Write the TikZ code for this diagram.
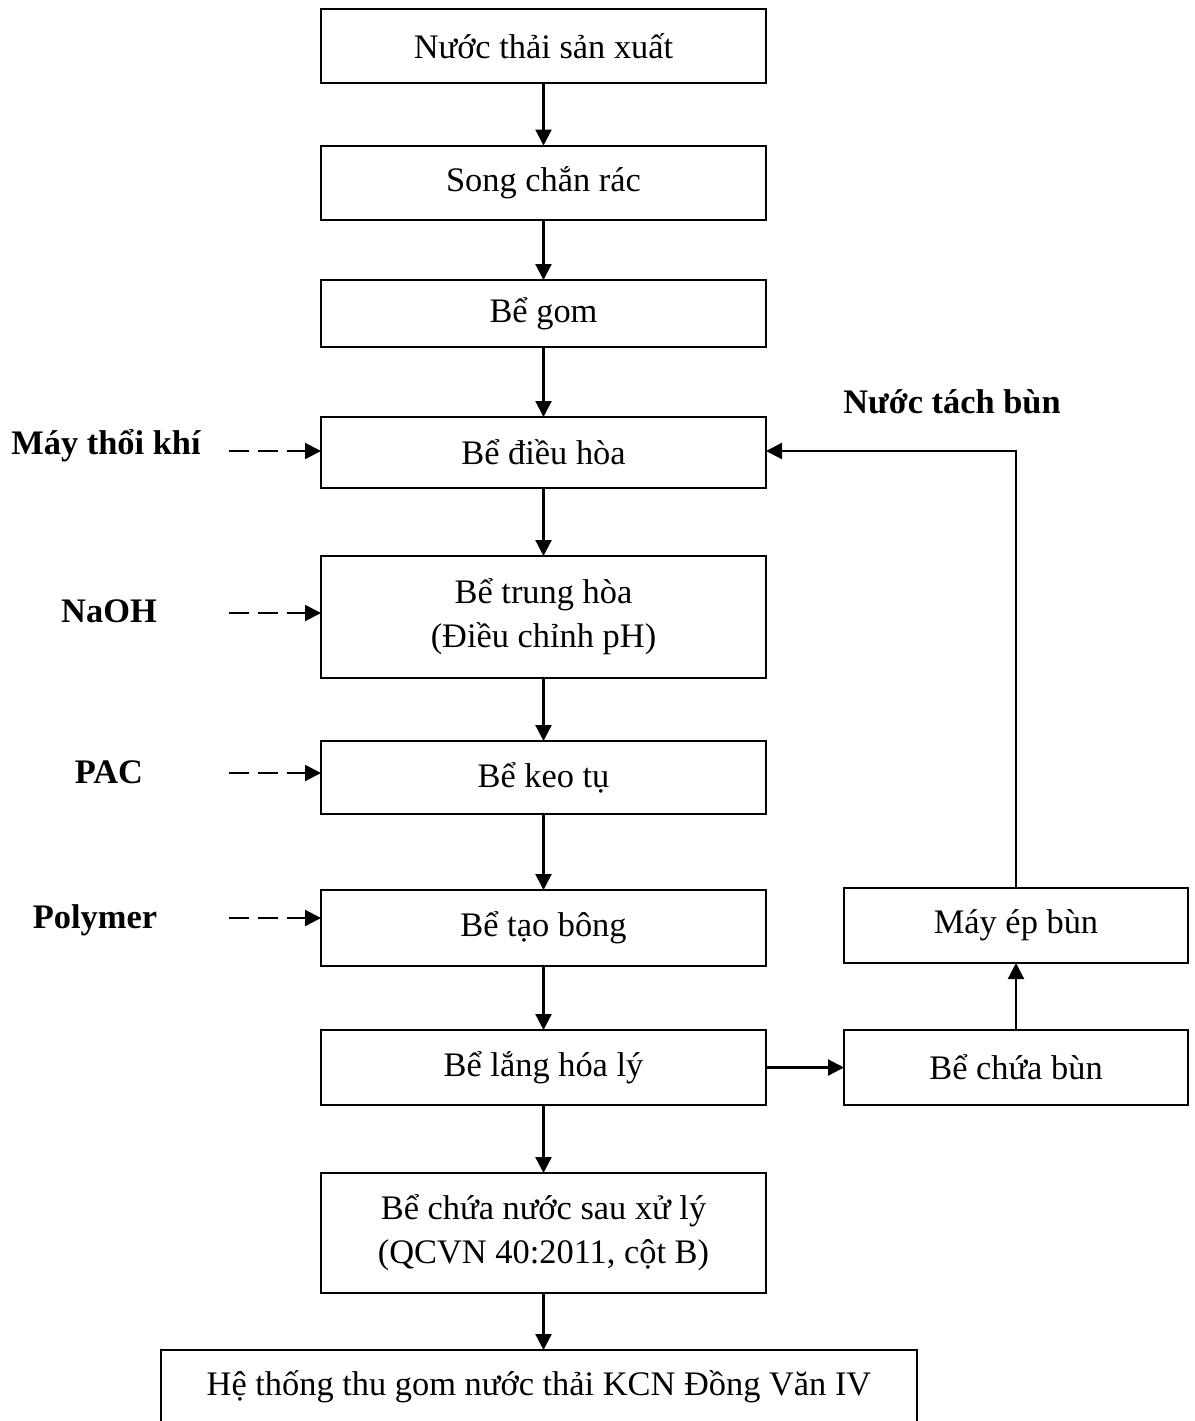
\documentclass[tikz,border=0pt]{standalone}
\usepackage{fontspec}
\setmainfont{Liberation Serif}
\usetikzlibrary{arrows.meta}
\begin{document}
\begin{tikzpicture}[x=0.5pt,y=-0.5pt,
  font=\fontsize{17.2pt}{22pt}\selectfont,
  box/.style={draw, line width=1pt, inner sep=0pt, outer sep=0pt,
    align=center, minimum width=222.5pt, minimum height=37pt},
  sidebox/.style={box, minimum width=172pt, minimum height=37.5pt},
  flow/.style={line width=1.1pt, -{Triangle[length=8pt,width=8pt]}},
  dose/.style={flow, dash pattern=on 10pt off 4.5pt},
  chem/.style={font=\fontsize{17.2pt}{22pt}\selectfont\bfseries}]
\clip (0,0) rectangle (1195,1421);
\fill[white] (0,0) rectangle (1195,1421);

% main treatment line
\node[box] (b1) at (543.5,46) {Nước thải sản xuất};
\node[box] (b2) at (543.5,182.5) {Song chắn rác};
\node[box, minimum height=33.5pt] (b3) at (543.5,313.5) {Bể gom};
\node[box, minimum height=35.5pt] (b4) at (543.5,452.5) {Bể điều hòa};
\node[box, minimum height=61pt] (b5) at (543.5,617) {Bể trung hòa\\(Điều chỉnh pH)};
\node[box, minimum height=36.5pt] (b6) at (543.5,777.5) {Bể keo tụ};
\node[box, minimum height=38pt] (b7) at (543.5,928) {Bể tạo bông};
\node[box, minimum height=37.5pt] (b8) at (543.5,1067.5) {Bể lắng hóa lý};
\node[box, minimum height=60pt] (b9) at (543.5,1233) {Bể chứa nước sau xử lý\\(QCVN 40:2011, cột B)};
\node[box, minimum width=378pt] (b10) at (539,1387) {Hệ thống thu gom nước thải KCN Đồng Văn IV};

% sludge line
\node[sidebox] (s1) at (1016,1067.5) {Bể chứa bùn};
\node[sidebox] (s2) at (1016,925.5) {Máy ép bùn};

% chemical and air inputs
\node[chem] (c1) at (106,446) {Máy thổi khí};
\node[chem] (c2) at (109,611) {NaOH};
\node[chem] (c3) at (109,772) {PAC};
\node[chem] (c4) at (95,920) {Polymer};
\node[chem] (lbl) at (952,402) {Nước tách bùn};

\coordinate (d1) at (229,451);
\coordinate (d2) at (229,613);
\coordinate (d3) at (229,773);
\coordinate (d4) at (229,918);

% connectors
\draw[flow] (b1) -- (b2);
\draw[flow] (b2) -- (b3);
\draw[flow] (b3) -- (b4);
\draw[flow] (b4) -- (b5);
\draw[flow] (b5) -- (b6);
\draw[flow] (b6) -- (b7);
\draw[flow] (b7) -- (b8);
\draw[flow] (b8) -- (b9);
\draw[flow] (b9.south) -- (b9.south |- b10.north);
\draw[flow] (b8) -- (s1);
\draw[flow] (s1) -- (s2);
\draw[flow] (s2.north) |- (b4.east |- d1);

\draw[dose] (d1) -- (d1 -| b4.west);
\draw[dose] (d2) -- (d2 -| b5.west);
\draw[dose] (d3) -- (d3 -| b6.west);
\draw[dose] (d4) -- (d4 -| b7.west);
\end{tikzpicture}
\end{document}
